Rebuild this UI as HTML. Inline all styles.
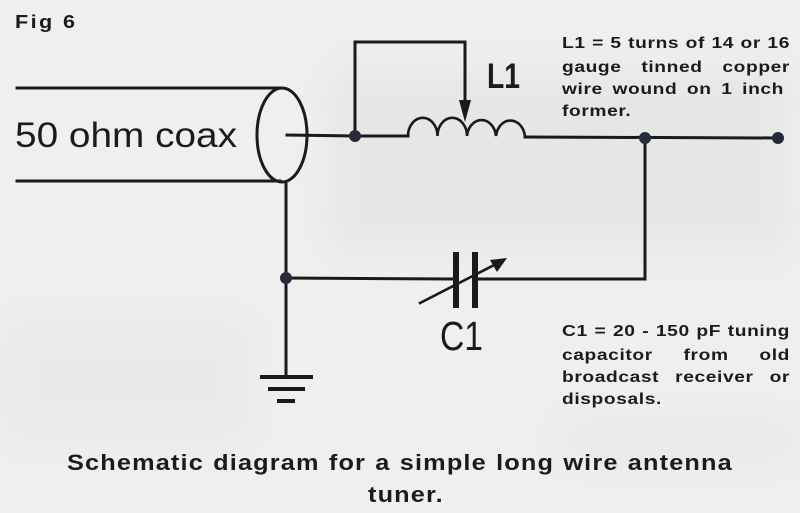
<!DOCTYPE html>
<html>
<head>
<meta charset="utf-8">
<style>
  html,body{margin:0;padding:0;background:#efefed;}
  body{position:relative;width:800px;height:513px;overflow:hidden;}
  svg{display:block;position:absolute;left:0;top:0;}
  text{font-family:"Liberation Sans",Arial,sans-serif;fill:#1b1b1b;}
  .t{position:absolute;font-family:"Liberation Sans",Arial,sans-serif;font-weight:bold;color:#1b1b1b;line-height:1;white-space:nowrap;transform-origin:0 0;}
  .j{text-align:justify;text-align-last:justify;white-space:normal;}
  .b{font-size:16px;transform:scaleX(1.2);width:190px;left:562px;letter-spacing:0.5px;}
  .ti{font-size:22px;transform:scaleX(1.15);letter-spacing:1px;}
</style>
</head>
<body>
<svg width="800" height="513" viewBox="0 0 800 513" xmlns="http://www.w3.org/2000/svg">
  <defs>
    <filter id="blur" x="-20%" y="-20%" width="140%" height="140%"><feGaussianBlur stdDeviation="18"/></filter>
  </defs>
  <rect x="0" y="0" width="800" height="513" fill="#efefed"/>
  <g filter="url(#blur)" opacity="0.45">
    <rect x="330" y="70" width="460" height="180" fill="#dcdcdc"/>
    <rect x="0" y="320" width="250" height="120" fill="#e2e2e2"/>
    <rect x="560" y="420" width="240" height="40" fill="#e0e0e0"/>
  </g>

  <g stroke="#1a1a1a" stroke-width="3" fill="none" stroke-linecap="square">
    <line x1="17" y1="88" x2="280" y2="88"/>
    <line x1="17" y1="181" x2="280" y2="181"/>
    <ellipse cx="282" cy="135" rx="25" ry="47"/>
    <line x1="287" y1="135" x2="355" y2="136"/>
    <line x1="286" y1="182" x2="286" y2="377"/>
    <polyline points="355,136 355,42 465,42 465,104"/>
    <line x1="355" y1="136" x2="408" y2="136"/>
    <path d="M408,136 A14.6,18 0 0 1 437.5,136 A14.6,18 0 0 1 467,136 A14.6,18 0 0 1 496,136 A14.6,18 0 0 1 525,137" stroke-width="2.6"/>
    <line x1="525" y1="137" x2="778" y2="138"/>
    <polyline points="645,138 645,279 478,279"/>
    <line x1="286" y1="278" x2="453" y2="279"/>
    <line x1="420" y1="303" x2="500" y2="262" stroke-width="2.6"/>
  </g>
  <polygon points="459,100 471,100 465,122" fill="#1a1a1a"/>
  <rect x="453" y="252" width="6" height="56" fill="#1a1a1a"/>
  <rect x="472" y="252" width="6" height="56" fill="#1a1a1a"/>
  <polygon points="507,258 490,260 497,272" fill="#1a1a1a"/>
  <rect x="260" y="375" width="53" height="4" fill="#1a1a1a"/>
  <rect x="268" y="387" width="37" height="4" fill="#1a1a1a"/>
  <rect x="277" y="399" width="18" height="4" fill="#1a1a1a"/>
  <g fill="#262a3c">
    <circle cx="355" cy="136" r="6"/>
    <circle cx="645" cy="138" r="6"/>
    <circle cx="778" cy="138" r="6"/>
    <circle cx="286" cy="278" r="6"/>
  </g>

  <text x="15" y="147" font-size="35" textLength="222" lengthAdjust="spacingAndGlyphs">50 ohm coax</text>
  <text x="487" y="88" font-size="35" font-weight="bold" textLength="33" lengthAdjust="spacingAndGlyphs">L1</text>
  <text x="440" y="350" font-size="41" textLength="43" lengthAdjust="spacingAndGlyphs">C1</text>
</svg>

<div class="t" style="left:15px;top:13px;font-size:18px;transform:scaleX(1.2);letter-spacing:2px;">Fig 6</div>

<div class="t j b" style="top:35.7px;">L1 = 5 turns of 14 or 16</div>
<div class="t j b" style="top:59.7px;">gauge tinned copper</div>
<div class="t j b" style="top:81.7px;width:185px;">wire wound on 1 inch</div>
<div class="t b" style="top:103.7px;">former.</div>

<div class="t j b" style="top:323.7px;">C1 = 20 - 150 pF tuning</div>
<div class="t j b" style="top:347.7px;">capacitor from old</div>
<div class="t j b" style="top:369.7px;">broadcast receiver or</div>
<div class="t b" style="top:391.7px;">disposals.</div>

<div class="t j ti" style="left:67px;top:451.7px;width:579px;">Schematic diagram for a simple long wire antenna</div>
<div class="t ti" style="left:368px;top:483.7px;">tuner.</div>
</body>
</html>
